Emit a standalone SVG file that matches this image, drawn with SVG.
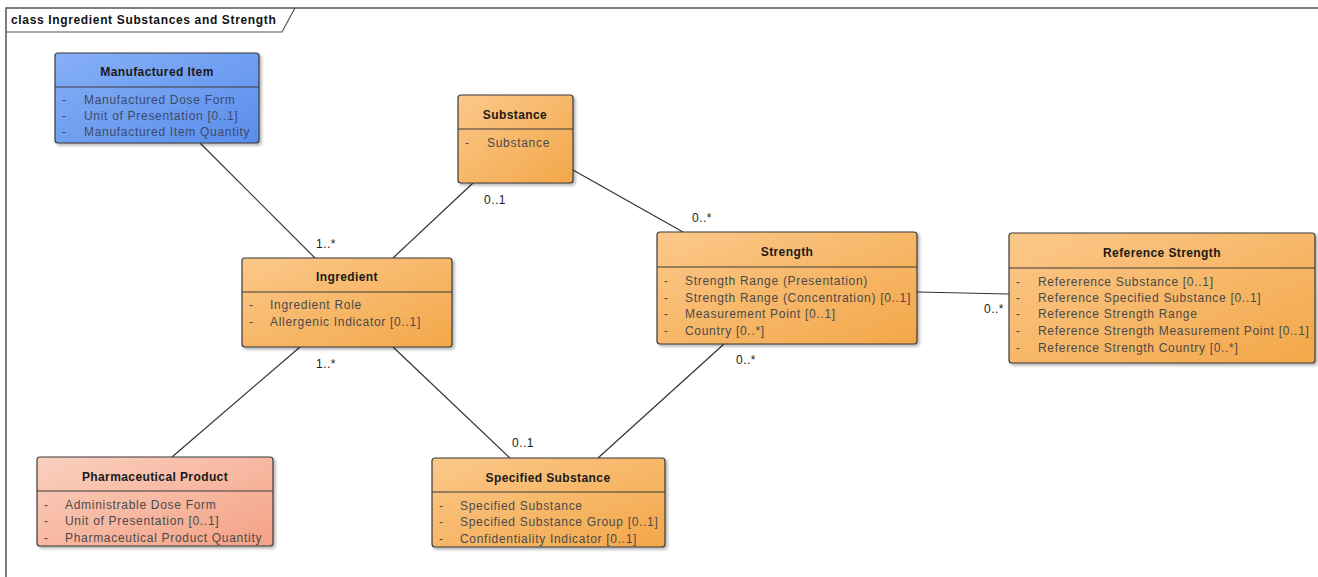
<svg xmlns="http://www.w3.org/2000/svg" width="1318" height="577" viewBox="0 0 1318 577">
<style>
text{font-family:"Liberation Sans",Arial,sans-serif;font-size:12px;letter-spacing:0.7px}
.t{font-weight:bold;fill:#1a1a1a;text-anchor:middle;letter-spacing:0.4px}
.a{fill:#4a4a4a}
.ab{fill:#3c4a6a}
.m{fill:#222;letter-spacing:0.5px}
.box{stroke:#3a3a3a;stroke-width:1.2;filter:url(#sh)}
.div{stroke:#3a3a3a;stroke-width:1.2}
.c{stroke:#333;stroke-width:1.2;fill:none}
</style>
<defs>
<linearGradient id="gO" x1="0" y1="0" x2="1" y2="1">
<stop offset="0" stop-color="#fbc88a"/><stop offset="1" stop-color="#f3a749"/>
</linearGradient>
<linearGradient id="gB" x1="0" y1="0" x2="1" y2="1">
<stop offset="0" stop-color="#86aff6"/><stop offset="1" stop-color="#5a8eec"/>
</linearGradient>
<linearGradient id="gP" x1="0" y1="0" x2="1" y2="1">
<stop offset="0" stop-color="#fad0bf"/><stop offset="1" stop-color="#f4a186"/>
</linearGradient>
<filter id="sh" x="-10%" y="-10%" width="120%" height="130%">
<feDropShadow dx="2" dy="2" stdDeviation="1.5" flood-color="#000" flood-opacity="0.3"/>
</filter>
</defs>
<rect width="1318" height="577" fill="#fff"/>
<g id="frame">
<path d="M6 577 V8 H1318" fill="none" stroke="#555" stroke-width="1.5"/>
<path d="M6 32 H282 L295 8" fill="none" stroke="#555" stroke-width="1.2"/>
<text x="11" y="24" style="font-weight:bold;letter-spacing:0.65px" fill="#111">class Ingredient Substances and Strength</text>
</g>
<g id="connectors">
<line class="c" x1="200" y1="143" x2="315" y2="258"/>
<line class="c" x1="473" y1="183" x2="393" y2="258"/>
<line class="c" x1="573" y1="170" x2="683" y2="232"/>
<line class="c" x1="917" y1="292" x2="1009" y2="294"/>
<line class="c" x1="300" y1="347" x2="172" y2="457"/>
<line class="c" x1="393" y1="347" x2="510" y2="458"/>
<line class="c" x1="724" y1="344" x2="598" y2="458"/>
<text class="m" x="316" y="248">1..*</text>
<text class="m" x="484" y="204">0..1</text>
<text class="m" x="692" y="222">0..*</text>
<text class="m" x="984" y="313">0..*</text>
<text class="m" x="316" y="368">1..*</text>
<text class="m" x="512" y="447">0..1</text>
<text class="m" x="736" y="364">0..*</text>
</g>
<g id="manufactured-item">
<rect class="box" x="55" y="53" width="204" height="90" rx="3" fill="url(#gB)"/>
<line class="div" x1="55" y1="87" x2="259" y2="87"/>
<text class="t" x="157" y="76">Manufactured Item</text>
<text class="ab" x="62" y="104">-</text><text class="ab" x="84" y="104">Manufactured Dose Form</text>
<text class="ab" x="62" y="120">-</text><text class="ab" x="84" y="120">Unit of Presentation [0..1]</text>
<text class="ab" x="62" y="136">-</text><text class="ab" x="84" y="136">Manufactured Item Quantity</text>
</g>
<g id="substance">
<rect class="box" x="458" y="95" width="115" height="88" rx="3" fill="url(#gO)"/>
<line class="div" x1="458" y1="129" x2="573" y2="129"/>
<text class="t" x="515" y="119">Substance</text>
<text class="a" x="465" y="147">-</text><text class="a" x="487" y="147">Substance</text>
</g>
<g id="ingredient">
<rect class="box" x="242" y="258" width="210" height="89" rx="3" fill="url(#gO)"/>
<line class="div" x1="242" y1="292" x2="452" y2="292"/>
<text class="t" x="347" y="281">Ingredient</text>
<text class="a" x="249" y="309">-</text><text class="a" x="270" y="309">Ingredient Role</text>
<text class="a" x="249" y="326">-</text><text class="a" x="270" y="326">Allergenic Indicator [0..1]</text>
</g>
<g id="strength">
<rect class="box" x="657" y="232" width="260" height="112" rx="3" fill="url(#gO)"/>
<line class="div" x1="657" y1="267" x2="917" y2="267"/>
<text class="t" x="787" y="256">Strength</text>
<text class="a" x="664" y="285">-</text><text class="a" x="685" y="285">Strength Range (Presentation)</text>
<text class="a" x="664" y="302">-</text><text class="a" x="685" y="302">Strength Range (Concentration) [0..1]</text>
<text class="a" x="664" y="318">-</text><text class="a" x="685" y="318">Measurement Point [0..1]</text>
<text class="a" x="664" y="335">-</text><text class="a" x="685" y="335">Country [0..*]</text>
</g>
<g id="reference-strength">
<rect class="box" x="1009" y="233" width="306" height="130" rx="3" fill="url(#gO)"/>
<line class="div" x1="1009" y1="268" x2="1315" y2="268"/>
<text class="t" x="1162" y="257">Reference Strength</text>
<text class="a" x="1016" y="286">-</text><text class="a" x="1038" y="286">Refererence Substance [0..1]</text>
<text class="a" x="1016" y="302">-</text><text class="a" x="1038" y="302">Reference Specified Substance [0..1]</text>
<text class="a" x="1016" y="318">-</text><text class="a" x="1038" y="318">Reference Strength Range</text>
<text class="a" x="1016" y="335">-</text><text class="a" x="1038" y="335">Reference Strength Measurement Point [0..1]</text>
<text class="a" x="1016" y="352">-</text><text class="a" x="1038" y="352">Reference Strength Country [0..*]</text>
</g>
<g id="pharmaceutical-product">
<rect class="box" x="37" y="457" width="236" height="89" rx="3" fill="url(#gP)"/>
<line class="div" x1="37" y1="491" x2="273" y2="491"/>
<text class="t" x="155" y="481">Pharmaceutical Product</text>
<text class="a" x="44" y="509">-</text><text class="a" x="65" y="509">Administrable Dose Form</text>
<text class="a" x="44" y="525">-</text><text class="a" x="65" y="525">Unit of Presentation [0..1]</text>
<text class="a" x="44" y="542">-</text><text class="a" x="65" y="542">Pharmaceutical Product Quantity</text>
</g>
<g id="specified-substance">
<rect class="box" x="432" y="458" width="233" height="89" rx="3" fill="url(#gO)"/>
<line class="div" x1="432" y1="492" x2="665" y2="492"/>
<text class="t" x="548" y="482">Specified Substance</text>
<text class="a" x="439" y="510">-</text><text class="a" x="460" y="510">Specified Substance</text>
<text class="a" x="439" y="526">-</text><text class="a" x="460" y="526">Specified Substance Group [0..1]</text>
<text class="a" x="439" y="543">-</text><text class="a" x="460" y="543">Confidentiality Indicator [0..1]</text>
</g>
</svg>
